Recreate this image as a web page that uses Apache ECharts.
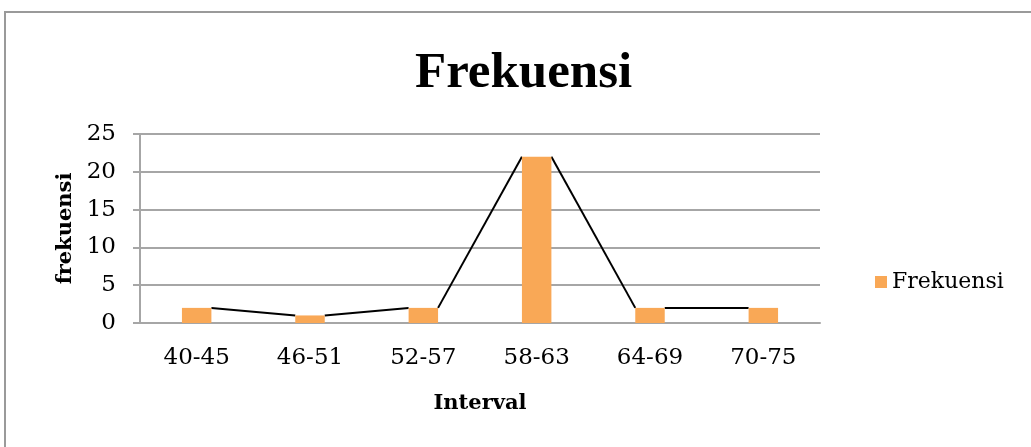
<!DOCTYPE html>
<html>
<head>
<meta charset="utf-8">
<script src="https://cdn.jsdelivr.net/npm/echarts@6/dist/echarts.min.js"></script>
<style>
  html, body { margin: 0; padding: 0; background: #fff; }
  #main { width: 1031px; height: 447px; }
</style>
</head>
<body>
<div id="main"></div>
<script>
// data
const categories = ['40-45', '46-51', '52-57', '58-63', '64-69', '70-75'];
const frekuensi = [2, 1, 2, 22, 2, 2];
const yTicks = [0, 5, 10, 15, 20, 25];

const chart = echarts.init(document.getElementById('main'));

const serif = '"DejaVu Serif", "Liberation Serif", serif';
const titleFont = '"Liberation Serif", serif';
const gridGray = '#a6a6a6';
const half = 0.13; // half a bar, in category units

// the black polygon line goes from the top-right corner of a bar to the top-left of the next
const lineSeries = [];
for (let i = 0; i < frekuensi.length - 1; i++) {
  lineSeries.push({
    type: 'line',
    xAxisIndex: 1,
    data: [[i + half, frekuensi[i]], [i + 1 - half, frekuensi[i + 1]]],
    symbol: 'none',
    lineStyle: { color: '#000', width: 2 },
    z: 1,
    silent: true
  });
}

const option = {
  backgroundColor: '#ffffff',
  animation: false,
  graphic: [{
    type: 'rect',
    shape: { x: 5, y: 12, width: 1100, height: 500 },
    style: { fill: 'none', stroke: '#9a9a9a', lineWidth: 2 }
  }],
  title: {
    text: 'Frekuensi',
    left: 410,
    top: 43,
    textStyle: { fontFamily: titleFont, fontWeight: 'bold', fontSize: 51, color: '#000' }
  },
  legend: {
    data: ['Frekuensi'],
    left: 870,
    top: 266,
    itemWidth: 12,
    itemHeight: 12,
    itemGap: 6,
    icon: 'rect',
    textStyle: { fontFamily: serif, fontSize: 22, color: '#000' }
  },
  grid: { left: 140, right: 211, top: 134, bottom: 124 },
  xAxis: [{
    type: 'category',
    data: categories,
    name: 'Interval',
    nameLocation: 'middle',
    nameGap: 70,
    nameTextStyle: { fontFamily: serif, fontWeight: 'bold', fontSize: 21, color: '#000' },
    axisLine: { lineStyle: { color: gridGray, width: 2 } },
    axisTick: { show: false },
    axisLabel: { fontFamily: serif, fontSize: 23, color: '#000', margin: 24 }
  }, {
    type: 'value',
    min: -0.5,
    max: categories.length - 0.5,
    show: false
  }],
  yAxis: {
    type: 'value',
    min: yTicks[0],
    max: yTicks[yTicks.length - 1],
    interval: yTicks[1] - yTicks[0],
    name: 'frekuensi',
    nameLocation: 'middle',
    nameGap: 64,
    nameTextStyle: { fontFamily: serif, fontWeight: 'bold', fontSize: 21, color: '#000' },
    axisLine: { show: true, onZero: false, lineStyle: { color: gridGray, width: 2 } },
    axisTick: { show: true, length: 7, lineStyle: { color: gridGray, width: 2 } },
    splitLine: { lineStyle: { color: gridGray, width: 2 } },
    axisLabel: { fontFamily: serif, fontSize: 23, color: '#000', margin: 24 }
  },
  series: [{
    name: 'Frekuensi',
    type: 'bar',
    data: frekuensi,
    barWidth: '26%',
    itemStyle: { color: '#f9a856' },
    z: 3
  }].concat(lineSeries)
};

chart.setOption(option);
</script>
</body>
</html>
